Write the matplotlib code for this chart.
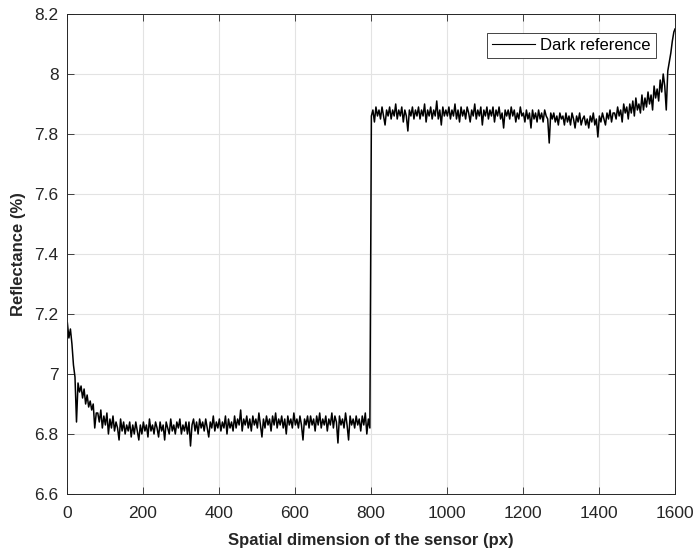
import numpy as np
import matplotlib
matplotlib.use('Agg')
import matplotlib.pyplot as plt

plt.rcParams['font.family'] = ['Liberation Sans', 'DejaVu Sans']

# Sensor pixel index (every 4th pixel) and measured reflectance of the dark reference
pixels = np.append(np.arange(1, 1600, 4), 1600)

# pixels 1..797
refl_low = [
    7.17, 7.12, 7.15, 7.10, 7.03, 6.99, 6.84, 6.97, 6.94, 6.96,
    6.92, 6.95, 6.90, 6.93, 6.89, 6.91, 6.88, 6.90, 6.82, 6.87,
    6.87, 6.84, 6.88, 6.82, 6.86, 6.83, 6.87, 6.80, 6.85, 6.82,
    6.86, 6.81, 6.84, 6.82, 6.78, 6.85, 6.81, 6.84, 6.80, 6.83,
    6.81, 6.84, 6.79, 6.83, 6.80, 6.84, 6.81, 6.78, 6.83, 6.80,
    6.84, 6.81, 6.83, 6.79, 6.85, 6.81, 6.83, 6.80, 6.84, 6.82,
    6.79, 6.84, 6.81, 6.83, 6.78, 6.84, 6.82, 6.80, 6.85, 6.81,
    6.83, 6.80, 6.84, 6.82, 6.85, 6.80, 6.83, 6.81, 6.84, 6.80,
    6.84, 6.76, 6.83, 6.85, 6.81, 6.84, 6.80, 6.85, 6.82, 6.84,
    6.81, 6.85, 6.82, 6.79, 6.84, 6.82, 6.86, 6.81, 6.84, 6.82,
    6.85, 6.81, 6.84, 6.82, 6.86, 6.80, 6.85, 6.82, 6.84, 6.81,
    6.86, 6.82, 6.85, 6.83, 6.88, 6.81, 6.85, 6.83, 6.86, 6.82,
    6.85, 6.81, 6.86, 6.83, 6.85, 6.82, 6.87, 6.83, 6.79, 6.85,
    6.82, 6.86, 6.83, 6.85, 6.81, 6.86, 6.83, 6.87, 6.82, 6.85,
    6.83, 6.86, 6.82, 6.85, 6.80, 6.86, 6.83, 6.85, 6.82, 6.87,
    6.83, 6.85, 6.82, 6.86, 6.83, 6.78, 6.85, 6.83, 6.86, 6.82,
    6.86, 6.83, 6.85, 6.81, 6.86, 6.83, 6.87, 6.82, 6.85, 6.83,
    6.86, 6.81, 6.85, 6.83, 6.87, 6.82, 6.86, 6.84, 6.77, 6.86,
    6.83, 6.85, 6.82, 6.87, 6.83, 6.78, 6.86, 6.83, 6.85, 6.82,
    6.86, 6.83, 6.85, 6.81, 6.86, 6.83, 6.87, 6.80, 6.85, 6.82,
]

# pixels 801..1600
refl_high = [
    7.86, 7.88, 7.84, 7.89, 7.86, 7.88, 7.85, 7.89, 7.86, 7.83,
    7.88, 7.86, 7.89, 7.85, 7.88, 7.86, 7.90, 7.85, 7.88, 7.86,
    7.89, 7.84, 7.88, 7.86, 7.81, 7.88, 7.86, 7.89, 7.85, 7.88,
    7.86, 7.89, 7.85, 7.88, 7.86, 7.90, 7.84, 7.88, 7.86, 7.89,
    7.85, 7.88, 7.86, 7.91, 7.85, 7.88, 7.83, 7.89, 7.86, 7.88,
    7.86, 7.89, 7.85, 7.88, 7.86, 7.90, 7.85, 7.88, 7.84, 7.89,
    7.86, 7.88, 7.85, 7.89, 7.87, 7.84, 7.88, 7.86, 7.90, 7.85,
    7.88, 7.86, 7.89, 7.83, 7.88, 7.86, 7.89, 7.85, 7.88, 7.86,
    7.89, 7.84, 7.88, 7.86, 7.89, 7.85, 7.87, 7.82, 7.88, 7.86,
    7.88, 7.85, 7.89, 7.86, 7.88, 7.84, 7.87, 7.85, 7.89, 7.86,
    7.87, 7.84, 7.88, 7.85, 7.87, 7.82, 7.88, 7.85, 7.87, 7.84,
    7.88, 7.85, 7.87, 7.84, 7.88, 7.86, 7.85, 7.77, 7.87, 7.85,
    7.87, 7.84, 7.86, 7.83, 7.87, 7.85, 7.86, 7.83, 7.87, 7.84,
    7.86, 7.83, 7.87, 7.85, 7.82, 7.86, 7.84, 7.87, 7.83, 7.85,
    7.86, 7.83, 7.85, 7.82, 7.86, 7.84, 7.87, 7.83, 7.85, 7.79,
    7.86, 7.84, 7.87, 7.85, 7.83, 7.87, 7.85, 7.88, 7.84, 7.87,
    7.87, 7.85, 7.89, 7.86, 7.88, 7.84, 7.90, 7.87, 7.89, 7.85,
    7.90, 7.87, 7.91, 7.86, 7.92, 7.88, 7.90, 7.87, 7.93, 7.88,
    7.92, 7.89, 7.94, 7.90, 7.93, 7.88, 7.96, 7.92, 7.95, 7.91,
    7.98, 7.94, 8.00, 7.96, 7.88, 8.01, 8.04, 8.07, 8.11, 8.14,
    8.15,
]

reflectance = np.array(refl_low + refl_high)

fig = plt.figure(figsize=(6.97, 5.51), dpi=100)
ax = fig.add_axes([67 / 697, 57 / 551, 608 / 697, 480 / 551])

ax.plot(pixels, reflectance, color='black', linewidth=1.1, label='Dark reference')

ax.set_xlim(0, 1600)
ax.set_ylim(6.6, 8.2)
ax.set_xticks(np.arange(0, 1601, 200))
ax.set_yticks(np.arange(6.6, 8.21, 0.2))
ax.set_yticklabels(['6.6', '6.8', '7', '7.2', '7.4', '7.6', '7.8', '8', '8.2'])

ax.grid(True, color='#e3e3e3', linewidth=0.8)
ax.set_axisbelow(True)
ax.tick_params(direction='in', top=True, right=True, length=5, width=0.6,
               labelsize=12.5, colors='#262626')
ax.tick_params(axis='x', pad=9)
ax.tick_params(axis='y', pad=6)
for sp in ax.spines.values():
    sp.set_color('#262626')
    sp.set_linewidth(0.7)

ax.set_xlabel('Spatial dimension of the sensor (px)', fontsize=12,
              fontweight='bold', color='#262626', labelpad=8)
ax.set_ylabel('Reflectance (%)', fontsize=12, fontweight='bold',
              color='#262626', labelpad=6)

leg = ax.legend(loc='upper right', fontsize=12, fancybox=False, framealpha=1,
                edgecolor='#262626', borderaxespad=1.15, handlelength=2.6,
                handletextpad=0.3, borderpad=0.3)
leg.get_frame().set_linewidth(0.6)
for h in leg.get_lines():
    h.set_linewidth(0.8)

fig.savefig('out.png', dpi=100)
